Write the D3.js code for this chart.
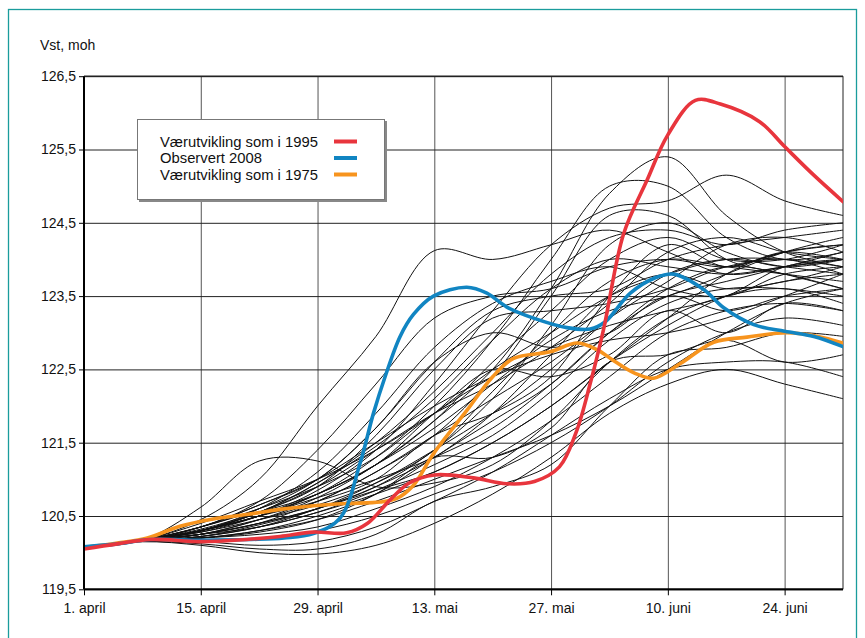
<!DOCTYPE html>
<html><head><meta charset="utf-8">
<script src="https://cdn.jsdelivr.net/npm/d3@7"></script>
<style>
html,body{margin:0;padding:0;background:#fff;}
text{font-family:"Liberation Sans",Arial,sans-serif;}
</style></head>
<body><svg id="c" width="865" height="638"></svg>
<script>
// ---- data ----
const yTicks = [119.5,120.5,121.5,122.5,123.5,124.5,125.5,126.5];
const xTickDays = [0,14,28,42,56,70,84];
const xTickLabels = ["1. april","15. april","29. april","13. mai","27. mai","10. juni","24. juni"];
const legendLabels = ["Værutvikling som i 1995","Observert 2008","Værutvikling som i 1975"];
const seriesColors = ["#e8353d","#1185c2","#f7941e"];

// coloured series: [day since 1 April, level]
const red1995 = [[0,120.05],[4,120.12],[8,120.18],[14,120.15],[19.5,120.18],[23.5,120.22],[27.5,120.28],[31.5,120.27],[34,120.4],[36.7,120.72],[39,120.95],[42,121.06],[46.7,121.02],[50.7,120.94],[54,120.97],[57,121.17],[59,121.64],[60.7,122.31],[62.3,123.05],[64.7,124.35],[67.5,125.08],[70,125.7],[73.3,126.17],[76.3,126.12],[81,125.88],[84,125.54],[87.5,125.15],[91,124.79]];
const blue2008 = [[0,120.08],[4,120.12],[8,120.18],[14,120.17],[20,120.18],[24,120.2],[27.5,120.26],[30.7,120.47],[33.1,121.22],[34.7,121.9],[36.1,122.4],[37.9,122.95],[39.5,123.25],[41.9,123.5],[45.9,123.62],[48.3,123.54],[50.7,123.35],[53.9,123.2],[57.9,123.07],[60.7,123.05],[62.5,123.15],[65.5,123.54],[68.5,123.75],[70.7,123.8],[74.3,123.59],[76.7,123.34],[80.3,123.11],[84,123.02],[87.5,122.95],[91,122.81]];
const orange1975 = [[0,120.07],[4,120.13],[7.6,120.2],[11.5,120.36],[15.5,120.46],[19.5,120.52],[23.5,120.59],[27.5,120.64],[31.5,120.67],[35.5,120.69],[37.5,120.74],[39.5,120.92],[41.9,121.35],[45.9,121.94],[49,122.4],[51.5,122.65],[55.9,122.74],[59.1,122.86],[61.5,122.77],[63.5,122.62],[66,122.45],[68.3,122.38],[71.5,122.58],[75.5,122.87],[79.5,122.94],[84.3,123.0],[88,122.95],[91,122.86]];

// ensemble of simulated years, levels at these days
const ensDays = [0,7,14,21,28,35,42,49,56,63,70,77,84,91];
const ensemble = [
 [120.07,120.17,120.62,121.25,121.25,120.9,120.95,121.2,121.8,122.6,123.2,123.5,123.6,123.4],
 [120.07,120.17,120.45,121.0,122.0,122.95,124.12,124.0,124.2,124.4,124.1,123.8,123.9,124.0],
 [120.07,120.17,120.35,120.7,121.4,122.3,123.2,123.5,123.6,123.9,124.0,123.9,124.1,124.2],
 [120.07,120.17,120.3,120.6,121.1,121.9,122.8,123.4,123.7,123.9,123.6,123.5,123.8,123.9],
 [120.07,120.16,120.3,120.55,120.9,121.6,122.5,123.2,123.3,123.4,123.6,123.9,124.0,123.8],
 [120.07,120.17,120.25,120.45,120.75,121.2,121.8,122.5,123.6,124.9,125.4,124.6,124.1,123.9],
 [120.07,120.17,120.3,120.5,120.8,121.3,122.0,122.9,124.0,125.0,125.0,124.3,124.0,124.1],
 [120.07,120.17,120.28,120.5,120.85,121.4,122.3,123.3,124.2,124.7,124.8,125.15,124.8,124.6],
 [120.07,120.16,120.25,120.4,120.7,121.1,121.6,122.4,123.5,124.6,124.6,124.0,123.8,123.6],
 [120.07,120.17,120.3,120.55,120.95,121.5,122.2,123.0,123.8,124.3,124.4,124.2,124.4,124.5],
 [120.07,120.16,120.22,120.35,120.6,120.9,121.4,122.1,123.1,124.2,124.5,124.1,123.9,124.0],
 [120.07,120.17,120.3,120.5,120.8,121.2,121.8,122.6,123.3,124.0,124.3,124.0,124.0,124.2],
 [120.07,120.17,120.3,120.5,120.7,121.0,121.6,121.9,122.4,123.5,124.2,123.9,124.1,124.0],
 [120.07,120.16,120.25,120.4,120.6,120.9,121.3,121.9,122.7,123.5,123.8,123.6,123.7,123.9],
 [120.07,120.17,120.32,120.55,120.8,121.2,121.7,122.3,122.9,123.3,123.5,123.8,124.1,124.3],
 [120.07,120.17,120.28,120.45,120.65,120.95,121.4,122.2,123.0,123.7,124.0,123.9,123.8,123.7],
 [120.07,120.16,120.2,120.3,120.5,120.8,121.3,121.8,122.3,123.0,123.6,123.9,123.8,123.6],
 [120.07,120.17,120.35,120.6,120.9,121.3,121.9,122.4,122.8,123.1,123.3,123.5,123.9,124.0],
 [120.07,120.17,120.3,120.5,120.75,121.0,121.3,121.7,122.3,123.0,123.5,123.7,123.9,124.1],
 [120.07,120.16,120.22,120.35,120.55,120.85,121.2,121.6,122.2,122.9,123.4,123.6,123.6,123.5],
 [120.07,120.17,120.3,120.5,120.8,121.2,121.9,122.5,122.4,122.7,123.3,123.0,123.4,123.3],
 [120.07,120.17,120.35,120.65,121.0,121.5,122.0,122.4,122.7,122.9,123.0,123.2,123.5,123.8],
 [120.07,120.16,120.25,120.4,120.6,120.85,121.1,121.5,122.0,122.6,123.2,123.8,124.1,124.2],
 [120.07,120.17,120.4,120.7,121.0,121.4,121.9,122.5,123.0,123.5,123.8,124.0,124.0,123.9],
 [120.07,120.15,120.1,120.0,119.98,120.1,120.4,120.8,121.3,121.9,122.3,122.5,122.3,122.1],
 [120.07,120.15,120.12,120.05,120.05,120.25,120.7,120.9,121.2,122.0,122.7,122.8,123.0,122.95],
 [120.07,120.16,120.15,120.1,120.15,120.35,120.7,121.1,121.6,122.1,122.5,122.6,122.6,122.4],
 [120.07,120.16,120.18,120.2,120.3,120.5,120.8,121.1,121.5,122.0,122.6,123.0,123.2,123.1],
 [120.07,120.16,120.2,120.25,120.35,120.6,120.9,121.3,121.8,122.4,123.0,123.3,123.4,123.3],
 [120.07,120.16,120.2,120.28,120.45,120.8,121.3,121.3,121.7,122.6,122.7,122.9,122.6,122.7],
 [120.07,120.17,120.25,120.35,120.55,120.8,121.1,121.5,122.0,122.6,123.1,123.5,123.7,123.8],
 [120.07,120.16,120.2,120.3,120.45,120.7,121.0,121.3,121.6,122.0,122.5,123.0,123.4,123.6],
 [120.07,120.17,120.35,120.65,121.0,121.7,122.6,123.0,122.8,123.0,123.5,123.3,123.5,123.6],
 [120.07,120.17,120.3,120.55,120.95,121.45,122.1,122.9,123.6,124.0,123.9,123.8,123.9,124.0],
 [120.07,120.17,120.35,120.6,121.0,121.7,122.6,123.3,123.5,123.6,124.0,124.2,124.3,124.4],
 [120.07,120.17,120.3,120.55,120.9,121.4,121.9,122.3,122.8,123.4,124.1,124.3,124.1,124.0],
 [120.07,120.17,120.25,120.45,120.7,121.1,121.6,122.1,122.6,123.2,123.7,124.2,124.3,124.1],
 [120.07,120.16,120.22,120.38,120.6,120.95,121.4,121.9,122.5,123.2,123.8,124.0,123.9,123.8]
];

// ---- drawing ----
const svg = d3.select("#c");
const L = 84, R = 843, T = 76.2, B = 589.3;
const x = d3.scaleLinear().domain([0,91]).range([L,R]);
const y = d3.scaleLinear().domain([119.5,126.5]).range([B,T]);

// outer teal frame
svg.append("rect").attr("x",8.5).attr("y",9.5).attr("width",848).attr("height",640)
  .attr("fill","none").attr("stroke","#1a9c9c").attr("stroke-width",1.3);

svg.append("text").attr("x",40).attr("y",50).attr("font-size",14).attr("fill","#111").text("Vst, moh");

// grid
const gx = svg.append("g").attr("transform",`translate(0,${B})`)
  .call(d3.axisBottom(x).tickValues(xTickDays).tickSize(-(B-T)).tickFormat(""));
gx.select(".domain").remove();
gx.selectAll("line").attr("stroke","#555").attr("stroke-width",1);
const gy = svg.append("g").attr("transform",`translate(${L},0)`)
  .call(d3.axisLeft(y).tickValues(yTicks).tickSize(-(R-L)).tickFormat(""));
gy.select(".domain").remove();
gy.selectAll("line").attr("stroke","#222").attr("stroke-width",1);

// right border
svg.append("line").attr("x1",R).attr("x2",R).attr("y1",T).attr("y2",B).attr("stroke","#222").attr("stroke-width",1);
svg.append("line").attr("x1",L).attr("x2",R).attr("y1",T).attr("y2",T).attr("stroke","#222").attr("stroke-width",1.5);

const clip = svg.append("clipPath").attr("id","pc").append("rect")
  .attr("x",L).attr("y",T-2).attr("width",R-L).attr("height",B-T+2);
const plot = svg.append("g").attr("clip-path","url(#pc)");

const lineE = d3.line().x((d,i)=>x(ensDays[i])).y(d=>y(d)).curve(d3.curveCatmullRom.alpha(0.5));
plot.selectAll("path.ens").data(ensemble).join("path").attr("class","ens")
  .attr("d",lineE).attr("fill","none").attr("stroke","#111").attr("stroke-width",1);

const lineC = d3.line().x(d=>x(d[0])).y(d=>y(d[1])).curve(d3.curveCatmullRom.alpha(0.5));
[[orange1975,seriesColors[2]],[blue2008,seriesColors[1]],[red1995,seriesColors[0]]].forEach(([s,c])=>{
  plot.append("path").attr("d",lineC(s)).attr("fill","none").attr("stroke",c)
    .attr("stroke-width",3.6).attr("stroke-linejoin","round").attr("stroke-linecap","round");
});

// axes
const ax = svg.append("g").attr("transform",`translate(0,${B})`)
  .call(d3.axisBottom(x).tickValues(xTickDays).tickSize(6).tickPadding(8).tickFormat((d,i)=>xTickLabels[i]));
ax.select(".domain").attr("stroke","#000").attr("stroke-width",2).attr("d",`M${L},0H${R}`);
ax.selectAll("line").attr("stroke","#000");
ax.selectAll("text").attr("font-size",14).attr("fill","#111").attr("font-family","'Liberation Sans',Arial,sans-serif");
const ay = svg.append("g").attr("transform",`translate(${L},0)`)
  .call(d3.axisLeft(y).tickValues(yTicks).tickSize(5).tickPadding(3).tickFormat(d=>d3.format(".1f")(d).replace(".",",")));
ay.select(".domain").attr("stroke","#000").attr("stroke-width",2).attr("d",`M0,${T}V${B}`);
ay.selectAll("line").attr("stroke","#000");
ay.selectAll("text").attr("font-size",14).attr("fill","#111").attr("font-family","'Liberation Sans',Arial,sans-serif");

// legend
const lg = svg.append("g");
lg.append("rect").attr("x",139).attr("y",121).attr("width",248).attr("height",81).attr("fill","#888");
lg.append("rect").attr("x",137.5).attr("y",119.5).attr("width",247).attr("height",80).attr("fill","#fff").attr("stroke","#777").attr("stroke-width",1);
const legColors = [seriesColors[0],seriesColors[1],seriesColors[2]];
legendLabels.forEach((t,i)=>{
  const yy = 141.5 + i*16.5;
  lg.append("text").attr("x",160).attr("y",yy+5).attr("font-size",14.8).attr("fill","#111").text(t);
  lg.append("line").attr("x1",334).attr("x2",357).attr("y1",yy).attr("y2",yy).attr("stroke",legColors[i]).attr("stroke-width",4);
});
</script></body></html>
